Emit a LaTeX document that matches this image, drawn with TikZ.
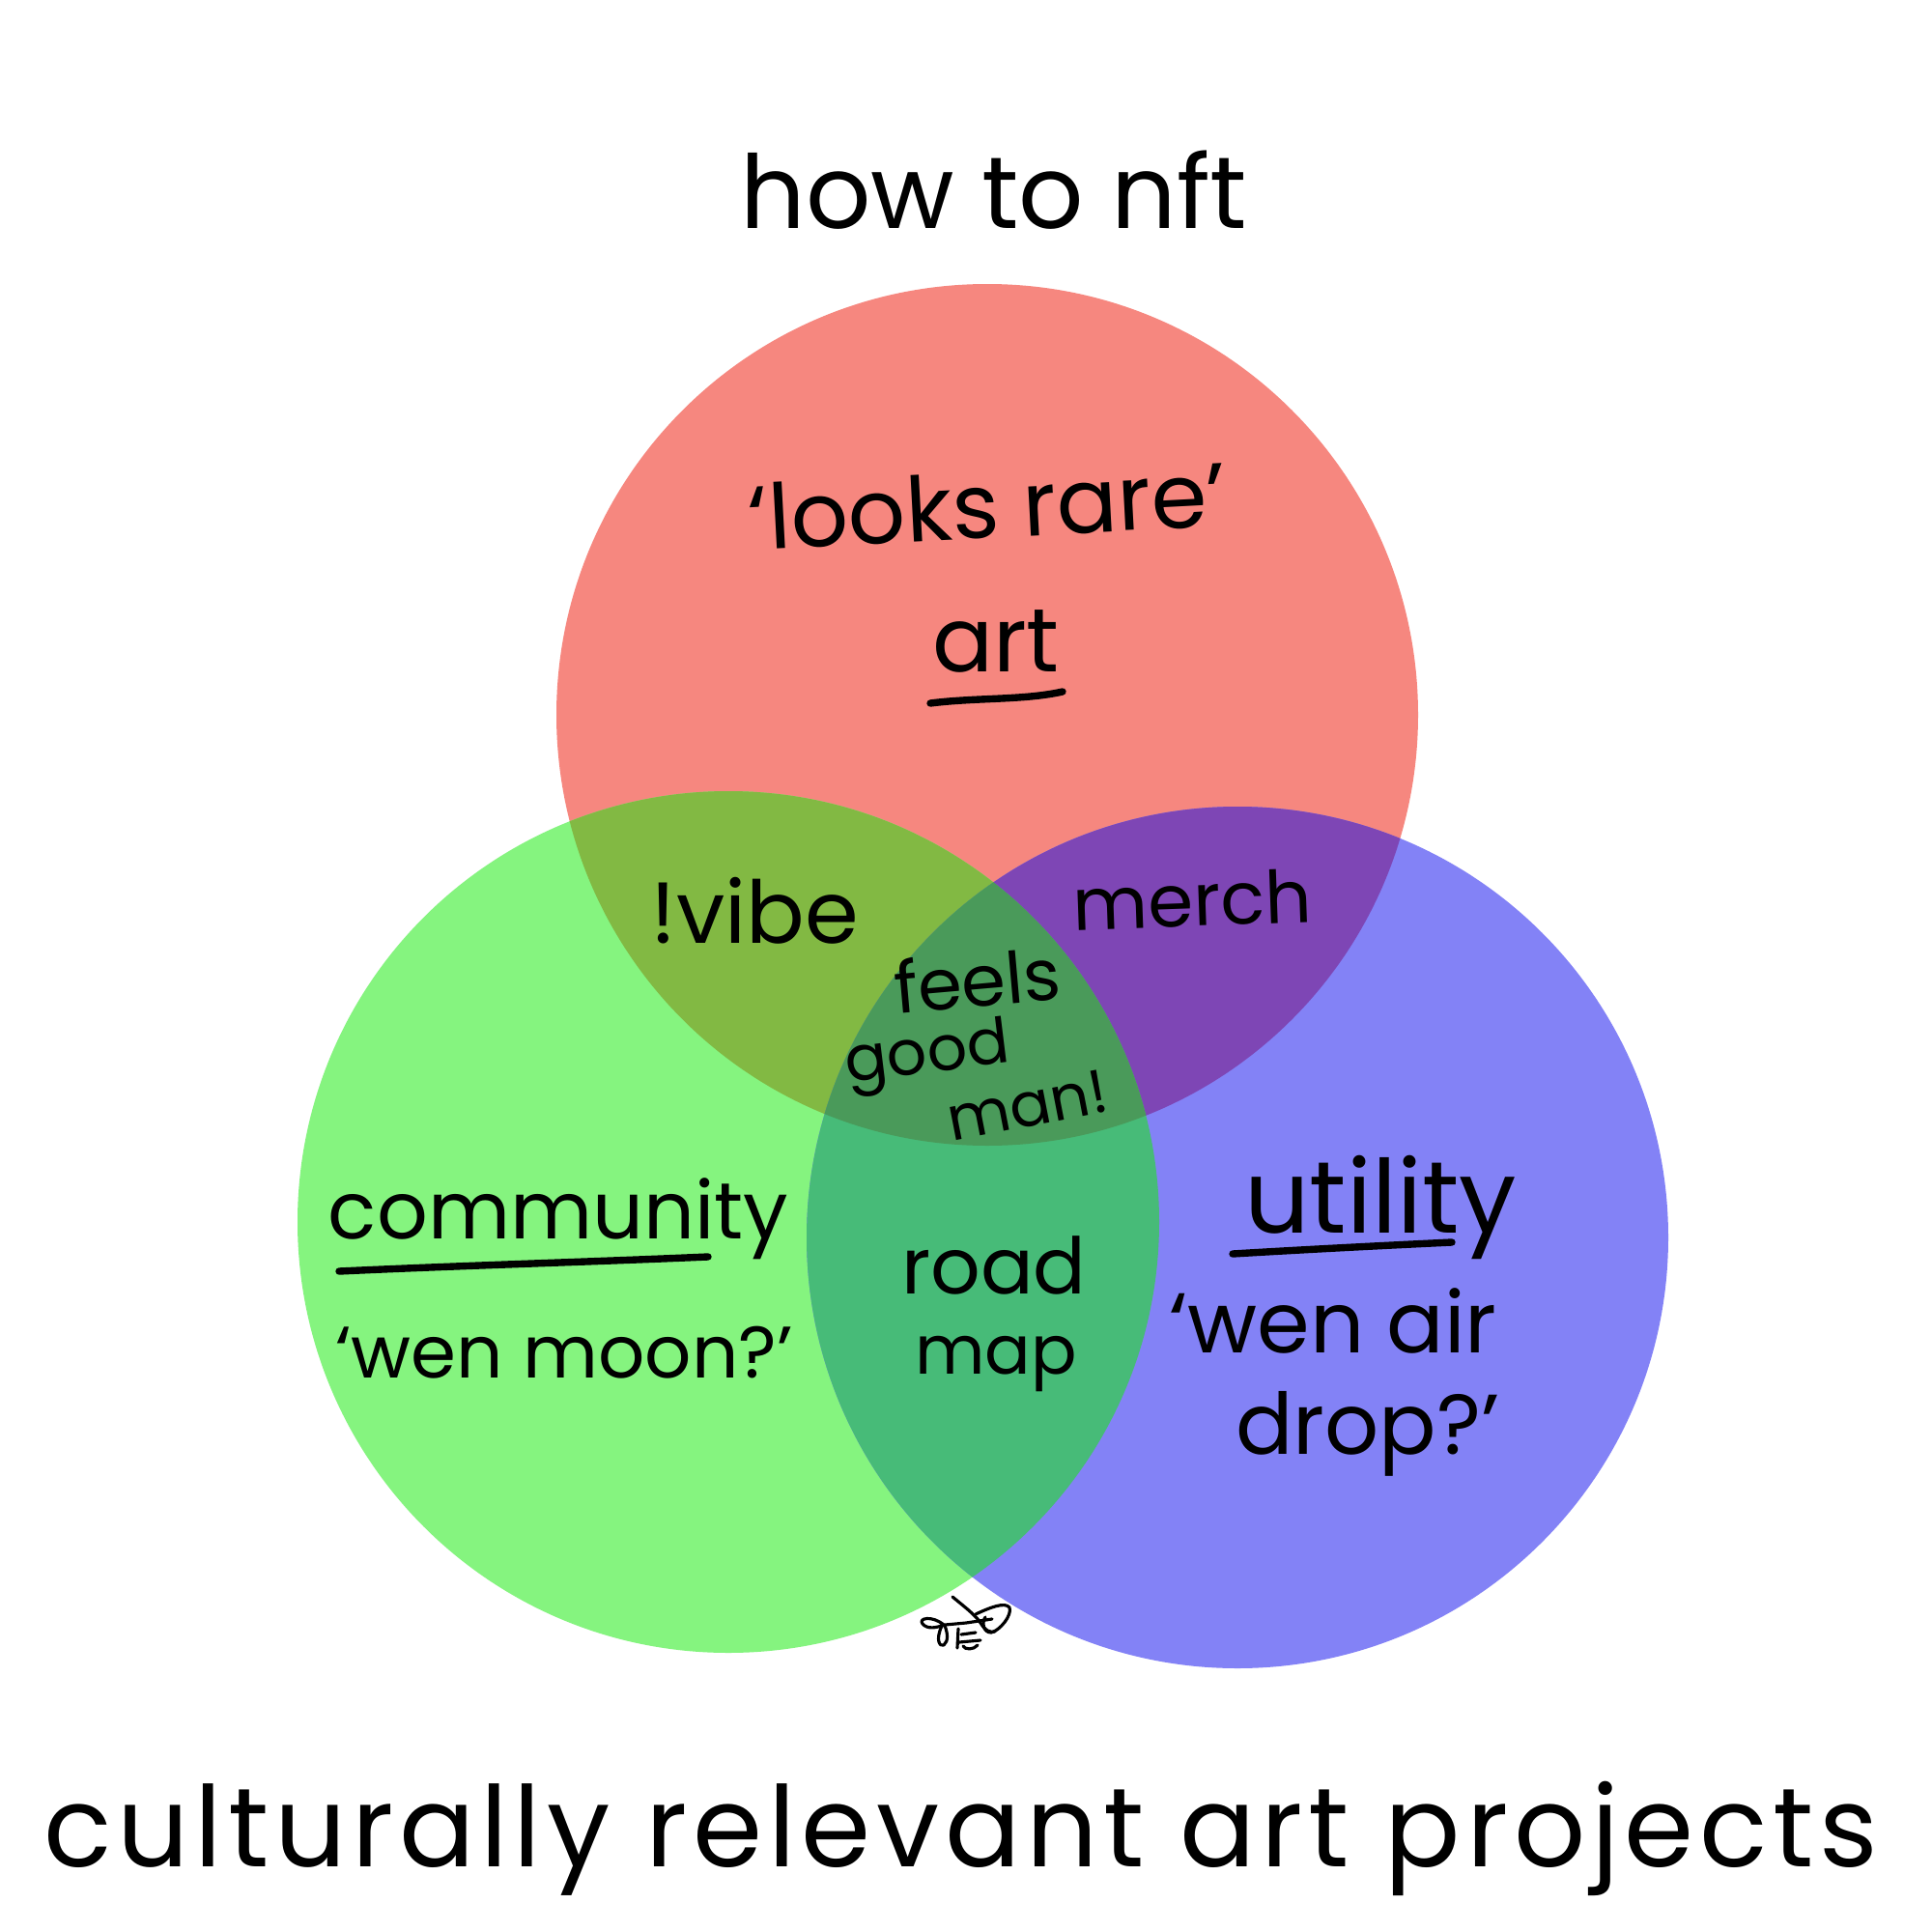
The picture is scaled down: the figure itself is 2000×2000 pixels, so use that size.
\documentclass[tikz,border=0pt]{standalone}
\usepackage{fontspec}
\setmainfont{Poppins}
\definecolor{cR}{HTML}{F6877F}
\definecolor{cG}{HTML}{85F47F}
\definecolor{cB}{HTML}{8382F6}
\definecolor{cRG}{HTML}{82B943}
\definecolor{cRB}{HTML}{7E46B5}
\definecolor{cGB}{HTML}{47BB78}
\definecolor{cRGB}{HTML}{4A9A5A}
\begin{document}
\begin{tikzpicture}[x=0.01cm,y=-0.01cm,
  lbl/.style={anchor=base,inner sep=0pt,text=black},
  uline/.style={line width=2.1pt,line cap=round},
  sig/.style={line width=0.9pt,line cap=round,line join=round}]
\useasboundingbox (0,0) rectangle (2000,2000);
\fill[white] (0,0) rectangle (2000,2000);
\def\rr{446}
\coordinate (R) at (1022,740);
\coordinate (G) at (754,1265);
\coordinate (B) at (1281,1281);
\fill[cR] (R) circle (\rr);
\fill[cG] (G) circle (\rr);
\fill[cB] (B) circle (\rr);
\begin{scope}\clip (R) circle (\rr); \fill[cRG] (G) circle (\rr); \fill[cRB] (B) circle (\rr);\end{scope}
\begin{scope}\clip (G) circle (\rr); \fill[cGB] (B) circle (\rr);\end{scope}
\begin{scope}\clip (R) circle (\rr); \clip (G) circle (\rr); \fill[cRGB] (B) circle (\rr);\end{scope}
% texts
\node[lbl,font=\fontsize{30}{36}\selectfont] (title) at (1029,236) {how to nft};
\node[lbl,font=\fontsize{26.5}{32}\selectfont,rotate=3] (looks) at (1024,557) {‘looks rare’};
\node[lbl,font=\fontsize{26.5}{32}\selectfont] (art) at (1031,695) {art};
\node[lbl,font=\fontsize{25.5}{32}\selectfont] (vibe) at (781,976) {!vibe};
\node[lbl,font=\fontsize{21.5}{28}\selectfont,rotate=2] (merch) at (1235,959) {merch};
\node[lbl,font=\fontsize{21}{26}\selectfont,rotate=5] (feels) at (1014,1042) {feels};
\node[lbl,font=\fontsize{18.5}{24}\selectfont,rotate=7] (good) at (962,1110) {good};
\node[lbl,font=\fontsize{18}{24}\selectfont,rotate=11] (man) at (1068,1166) {man!};
\node[lbl,font=\fontsize{23.5}{30}\selectfont] (comm) at (578,1282) {community};
\node[lbl,font=\fontsize{21.5}{28}\selectfont] (moon) at (584,1426) {‘wen moon?’};
\node[lbl,font=\fontsize{23}{28}\selectfont] (road) at (1029,1339) {road};
\node[lbl,font=\fontsize{20}{28}\selectfont] (map) at (1031,1422) {map};
\node[lbl,font=\fontsize{30}{36}\selectfont] (util) at (1429,1276) {utility};
\node[lbl,font=\fontsize{25}{30}\selectfont] (air) at (1380,1400) {‘wen air};
\node[lbl,font=\fontsize{25}{30}\selectfont] (drop) at (1416,1505) {drop?’};
\node[lbl,font=\fontsize{33}{40}\selectfont\addfontfeature{LetterSpace=5}] (proj) at (995,1932) {culturally relevant art projects};
% underlines
\draw[uline] (963,728) .. controls (1010,722) and (1060,725) .. (1100,716);
\draw[uline] (351,1316) .. controls (480,1310) and (620,1306) .. (733,1301);
\draw[uline] (1276,1298) .. controls (1360,1293) and (1440,1289) .. (1503,1286);
% signature
\draw[sig] (977,1682) .. controls (965,1672) and (950,1675) .. (955,1681) .. controls (960,1687) and (970,1685) .. (977,1682);
\draw[sig] (975,1683) .. controls (968,1698) and (973,1705) .. (977,1703) .. controls (982,1699) and (981,1690) .. (978,1683);
\draw[sig] (978,1682) -- (1000,1680) -- (1027,1676);
\draw[sig] (986,1653) .. controls (998,1663) and (1010,1672) .. (1015,1680) .. controls (1020,1688) and (1024,1690) .. (1030,1689);
\draw[sig] (1010,1671) .. controls (1025,1664) and (1040,1658) .. (1045,1664) .. controls (1048,1672) and (1035,1688) .. (1026,1690) .. controls (1018,1690) and (1016,1680) .. (1020,1674);
\draw[sig] (992,1686) -- (991,1706);
\draw[sig] (995,1692) -- (1010,1690);
\draw[sig] (993,1700) -- (1015,1698);
\draw[sig] (997,1704) .. controls (999,1708) and (1008,1708) .. (1012,1703);
\end{tikzpicture}
\end{document}
